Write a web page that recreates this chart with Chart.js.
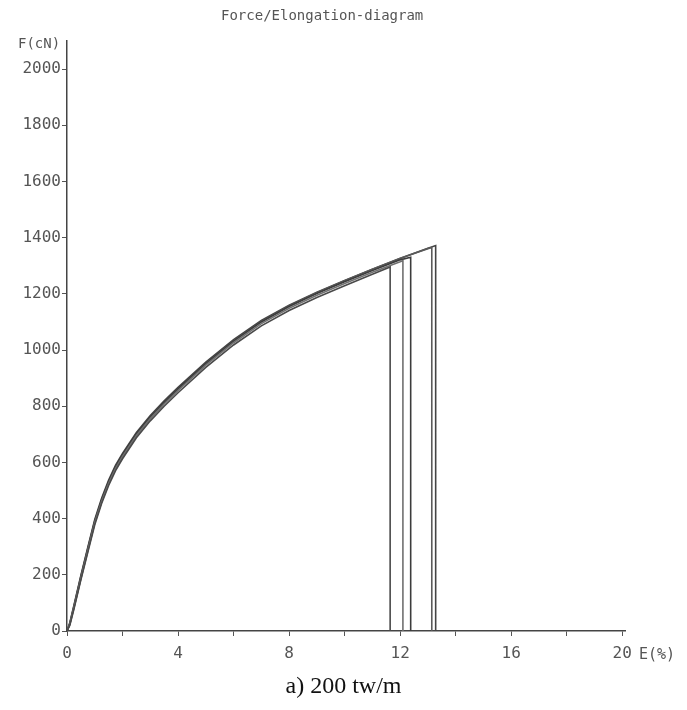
<!DOCTYPE html>
<html>
<head>
<meta charset="utf-8">
<script src="https://cdn.jsdelivr.net/npm/chart.js@4/dist/chart.umd.min.js"></script>
<style>
  body { margin: 0; background: #fff; }
  #wrap { position: relative; width: 687px; height: 710px; }
  #chart { position: absolute; left: 0; top: 0; }
  .lbl { position: absolute; font-family: "DejaVu Sans Mono", monospace; color: #555; white-space: nowrap; }
  #title { left: 221px; top: 7px; font-size: 14px; }
  #yunit { left: 18px; top: 35px; font-size: 14px; }
  #xunit { left: 639px; top: 645px; font-size: 15px; }
  #caption { position: absolute; left: 0; width: 687px; top: 672px; text-align: center;
             font-family: "Liberation Serif", "Times New Roman", serif; font-size: 24px; color: #111; }
</style>
</head>
<body>
<div id="wrap">
  <canvas id="chart" width="687" height="710"></canvas>
  <div class="lbl" id="title">Force/Elongation-diagram</div>
  <div class="lbl" id="yunit">F(cN)</div>
  <div class="lbl" id="xunit">E(%)</div>
  <div id="caption">a) 200 tw/m</div>
</div>
<script>
// elongation points (%) shared by the specimens
const elong = [0, 0.1, 0.25, 0.5, 0.75, 1, 1.25, 1.5, 1.75, 2, 2.5, 3, 3.5, 4, 5, 6, 7, 8, 9, 10, 11, 12, 13];

// force readings (cN) for each specimen
const spec1 = [0, 20, 78, 182, 280, 378, 455, 518, 571, 613, 688, 748, 800, 848, 938, 1018, 1086, 1141, 1187, 1229, 1270];
const spec2 = [0, 24, 84, 188, 288, 386, 462, 526, 579, 621, 696, 756, 808, 856, 946, 1026, 1094, 1149, 1195, 1237, 1277, 1314];
const spec3 = [0, 27, 88, 194, 294, 392, 468, 532, 585, 627, 702, 762, 814, 862, 952, 1032, 1100, 1155, 1201, 1243, 1283, 1321];
const spec4 = [0, 23, 82, 186, 286, 384, 460, 524, 578, 620, 696, 757, 810, 859, 951, 1032, 1101, 1157, 1204, 1247, 1288, 1327, 1361];
const spec5 = [0, 29, 92, 198, 298, 397, 473, 537, 590, 632, 707, 767, 819, 867, 957, 1037, 1105, 1160, 1206, 1248, 1288, 1326, 1362];

// break point of each specimen: [elongation %, force cN]
const breaks = [[11.64, 1296], [12.1, 1318], [12.38, 1330], [13.14, 1365], [13.28, 1372]];

const xTicks = [0, 2, 4, 6, 8, 10, 12, 14, 16, 18, 20];
const yTicks = [0, 200, 400, 600, 800, 1000, 1200, 1400, 1600, 1800, 2000];

function specimen(forces, brk) {
  const pts = forces.map((f, i) => ({ x: elong[i], y: f }));
  pts.push({ x: brk[0], y: brk[1] });
  pts.push({ x: brk[0], y: 0 });
  return pts;
}

const specimens = [spec1, spec2, spec3, spec4, spec5];
const shades = ["#4a4a4a", "#707070", "#3c3c3c", "#5a5a5a", "#444"];

const datasets = specimens.map((s, i) => ({
  data: specimen(s, breaks[i]),
  showLine: true,
  borderColor: shades[i],
  borderWidth: 1.6,
  pointRadius: 0,
  tension: 0,
  fill: false
}));

const tickFont = { family: "DejaVu Sans Mono", size: 16 };

new Chart(document.getElementById("chart").getContext("2d"), {
  type: "scatter",
  data: { datasets: datasets },
  options: {
    responsive: false,
    animation: false,
    layout: { padding: { left: 0, right: 62, top: 41, bottom: 0 } },
    plugins: { legend: { display: false }, tooltip: { enabled: false } },
    scales: {
      x: {
        type: "linear",
        min: 0,
        max: 20.1,
        afterBuildTicks: scale => { scale.ticks = xTicks.map(v => ({ value: v })); },
        afterFit: scale => { scale.height = 79; },
        ticks: {
          color: "#555",
          font: tickFont,
          padding: 8,
          maxRotation: 0,
          autoSkip: false,
          callback: v => (v % 4 === 0 ? String(v) : "")
        },
        grid: { drawOnChartArea: false, tickLength: 5, color: "#555" },
        border: { color: "#444", width: 1.5 }
      },
      y: {
        min: 0,
        max: 2100,
        afterBuildTicks: scale => { scale.ticks = yTicks.map(v => ({ value: v })); },
        afterFit: scale => { scale.width = 67; },
        ticks: { color: "#555", font: tickFont, padding: 1, callback: v => String(v) },
        grid: { drawOnChartArea: false, tickLength: 5, color: "#555" },
        border: { color: "#444", width: 1.5 }
      }
    }
  }
});
</script>
</body>
</html>
